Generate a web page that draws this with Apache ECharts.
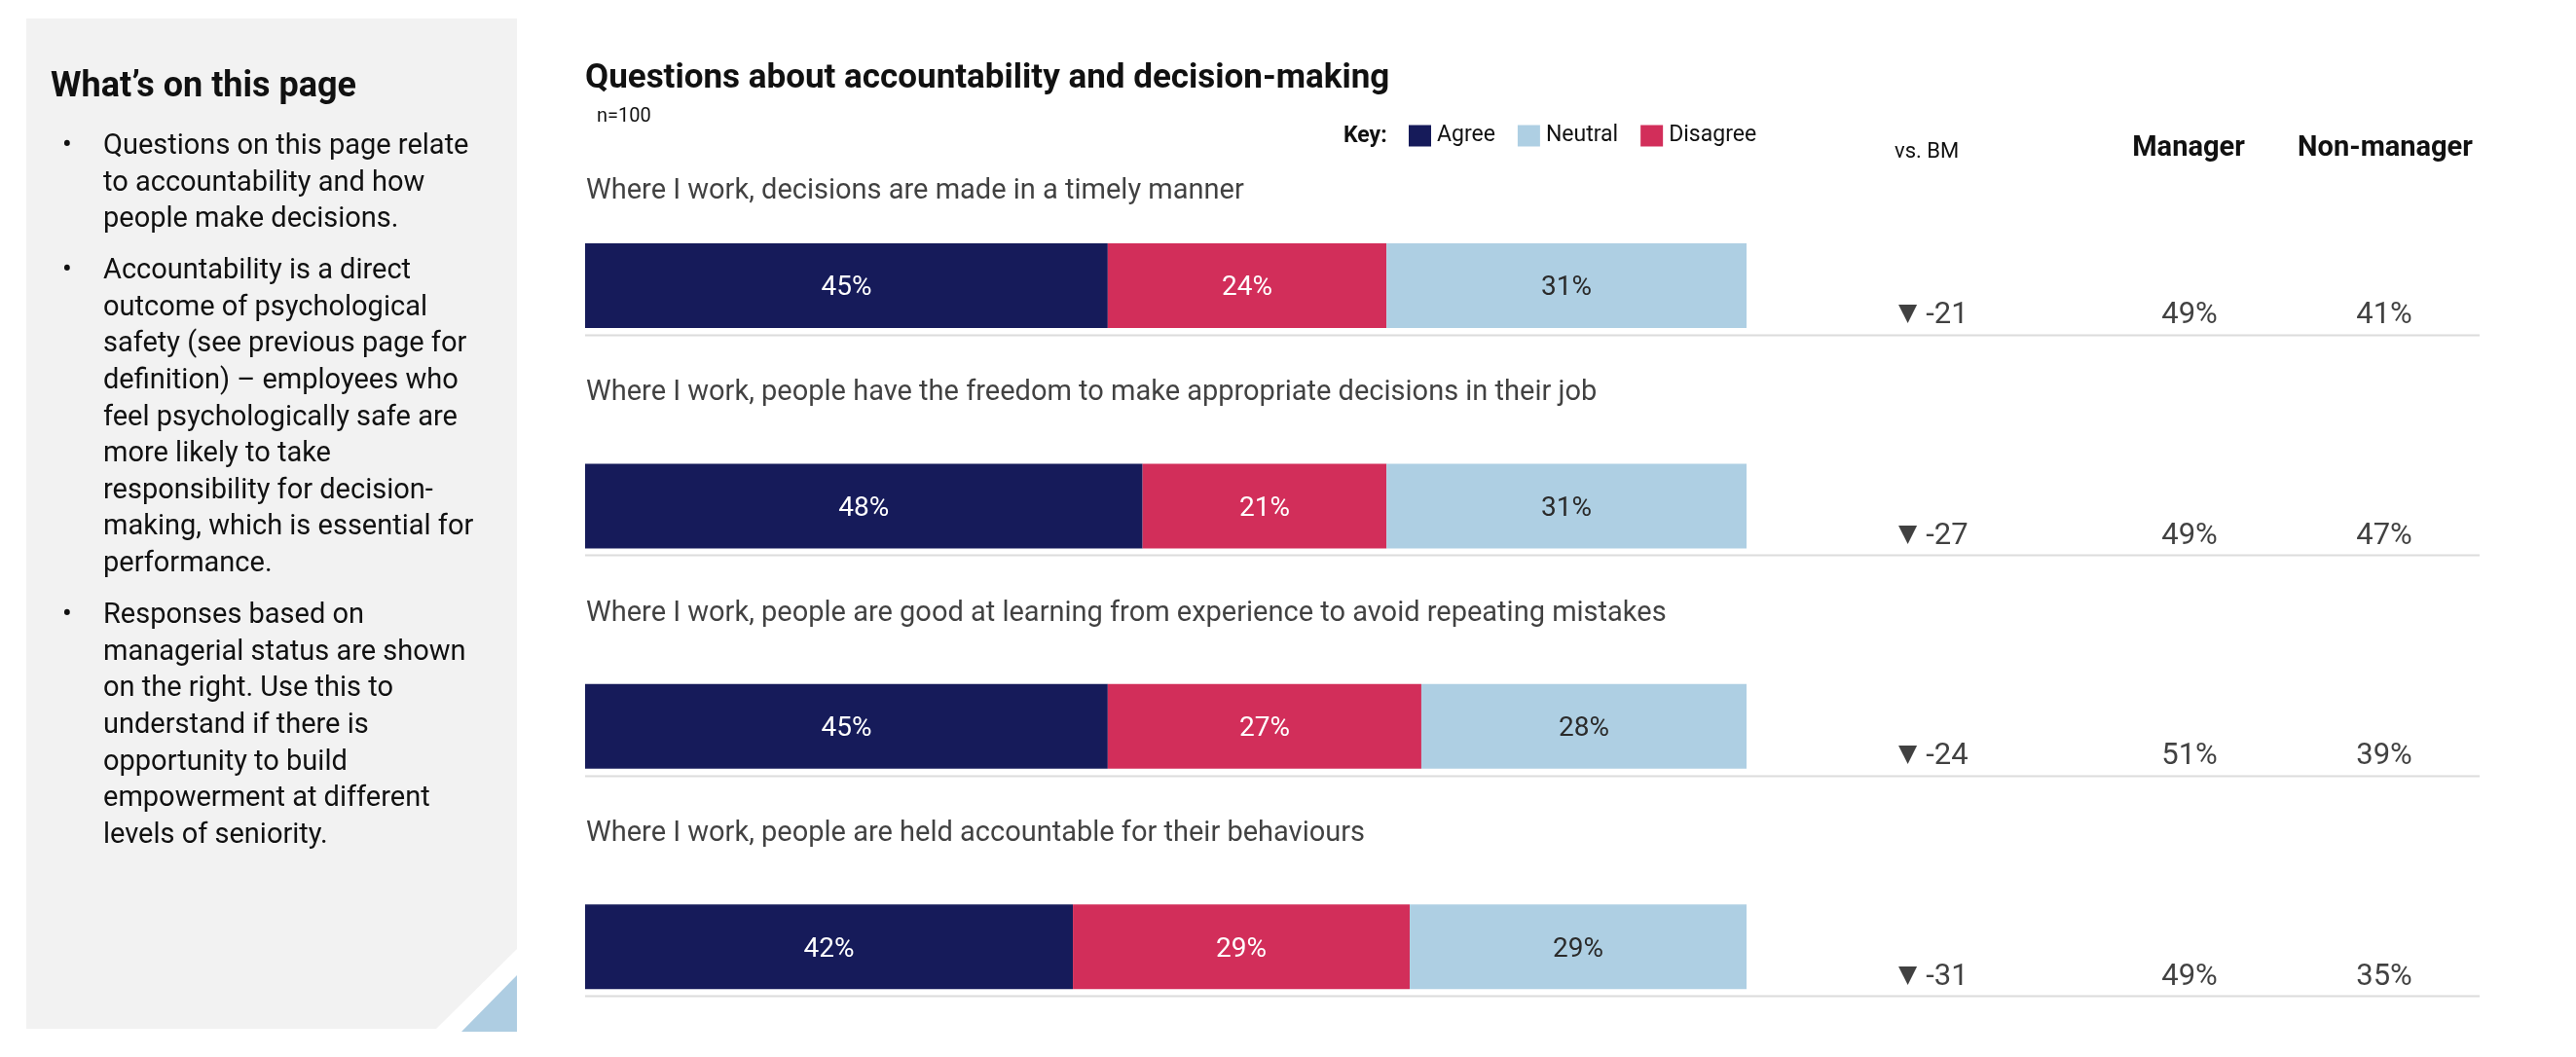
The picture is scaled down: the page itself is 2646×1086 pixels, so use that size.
<!DOCTYPE html>
<html>
<head>
<meta charset="utf-8">
<script src="https://cdn.jsdelivr.net/npm/echarts@6/dist/echarts.min.js"></script>
<style>
html,body{margin:0;padding:0;background:#ffffff;}
#chart{width:2646px;height:1086px;}
</style>
</head>
<body>
<div id="chart"></div>
<script>
// ---------------- DATA ----------------
const questions = [
  'Where I work, decisions are made in a timely manner',
  'Where I work, people have the freedom to make appropriate decisions in their job',
  'Where I work, people are good at learning from experience to avoid repeating mistakes',
  'Where I work, people are held accountable for their behaviours'
];
const agree    = [45, 48, 45, 42];
const disagree = [24, 21, 27, 29];
const neutral  = [31, 31, 28, 29];
const vsBM       = [-21, -27, -24, -31];
const manager    = [49, 49, 51, 49];
const nonManager = [41, 47, 39, 35];
const legendOrder   = ['Agree', 'Neutral', 'Disagree'];
const columnHeaders = ['vs. BM', 'Manager', 'Non-manager'];
const chartTitle = 'Questions about accountability and decision-making';
const sampleNote = 'n=100';
const keyLabel = 'Key:';
const panelTitle = 'What\u2019s on this page';
const panelBullets = [
  ['Questions on this page relate', 'to accountability and how', 'people make decisions.'],
  ['Accountability is a direct', 'outcome of psychological', 'safety (see previous page for',
   'definition) \u2013 employees who', 'feel psychologically safe are', 'more likely to take',
   'responsibility for decision-', 'making, which is essential for', 'performance.'],
  ['Responses based on', 'managerial status are shown', 'on the right. Use this to',
   'understand if there is', 'opportunity to build', 'empowerment at different', 'levels of seniority.']
];

// ---------------- STYLE / LAYOUT ----------------
const COL = {
  agree: '#161b5a', disagree: '#d22e5a', neutral: '#aecfe3',
  panel: '#f2f2f2', tri: '#aecde2', text: '#111111', rule: '#dcdcdc'
};
const FONT = 'Roboto, "Noto Sans", "DejaVu Sans", sans-serif';
const rowsTop = 180.2, rowsHeight = 906.7;
const barLeft = 601, barWidthPx = 1193, rowsRight = 2547;
const barThickness = 87;
// vertical offset of each question label above its bar (layout only)
const questionLabelOffsets = [-97, -116, -116, -116];

const chart = echarts.init(document.getElementById('chart'), null, {renderer: 'canvas'});

const rowIdx = questions.map((q, i) => i);
function catY(extra) {
  return Object.assign({type: 'category', data: rowIdx, inverse: true, show: false,
    axisLine: {show: false}, axisTick: {show: false}, axisLabel: {show: false}, splitLine: {show: false}}, extra || {});
}
function valX(min, max, gridIndex) {
  return {type: 'value', min: min, max: max, gridIndex: gridIndex, show: false,
    splitLine: {show: false}, axisLabel: {show: false}, axisLine: {show: false}, axisTick: {show: false}};
}

const grids = [
  {left: barLeft, width: barWidthPx, top: rowsTop, height: rowsHeight},          // bars
  {left: barLeft, width: rowsRight - barLeft, top: rowsTop, height: rowsHeight}, // rules + questions
  {left: 1950, width: 60, top: rowsTop, height: rowsHeight},                     // vs BM
  {left: 2199, width: 100, top: rowsTop, height: rowsHeight},                    // Manager
  {left: 2399, width: 100, top: rowsTop, height: rowsHeight}                     // Non-manager
];

function barSeries(name, values, color, labelColor) {
  return {
    name: name, type: 'bar', stack: 'resp', xAxisIndex: 0, yAxisIndex: 0,
    barWidth: barThickness, data: values,
    itemStyle: {color: color},
    label: {show: true, position: 'inside', formatter: '{c}%', color: labelColor,
      fontFamily: FONT, fontSize: 28, offset: [0, 3]},
    emphasis: {disabled: true}
  };
}

function valueColumn(gridIdx, values, formatter, align) {
  return {
    type: 'scatter', xAxisIndex: gridIdx, yAxisIndex: gridIdx,
    symbolSize: 0, silent: true,
    data: values.map((v, i) => [align === 'left' ? 0 : 0.5, i, v]),
    label: {show: true, position: 'inside', align: align || 'center', verticalAlign: 'middle',
      offset: [0, 31], fontFamily: FONT, fontSize: 31, color: COL.text,
      formatter: p => formatter(p.value[2]),
      rich: {tri: {fontFamily: '"DejaVu Sans", sans-serif', fontSize: 25, color: COL.text, padding: [0, 9, 3, 0]},
             num: {fontFamily: FONT, fontSize: 31, color: COL.text}}}
  };
}

// ------------- left panel graphics -------------
const graphics = [];
graphics.push({type: 'polygon', silent: true, z: 0,
  shape: {points: [[27, 19], [531, 19], [531, 975], [448, 1057], [27, 1057]]},
  style: {fill: COL.panel}});
graphics.push({type: 'polygon', silent: true, z: 0,
  shape: {points: [[474, 1060], [531, 1060], [531, 1002]]},
  style: {fill: COL.tri}});
graphics.push({type: 'text', x: 52, y: 90, silent: true,
  style: {text: panelTitle, font: 'bold 36px ' + FONT, fill: COL.text, verticalAlign: 'middle', align: 'left'}});
const paraStarts = [151, 279, 633];
const lineH = 37.6;
panelBullets.forEach((lines, p) => {
  graphics.push({type: 'text', x: 64, y: paraStarts[p], silent: true,
    style: {text: '\u2022', font: '29px ' + FONT, fill: COL.text, verticalAlign: 'middle', align: 'left'}});
  lines.forEach((ln, k) => {
    graphics.push({type: 'text', x: 106, y: paraStarts[p] + k * lineH, silent: true,
      style: {text: ln, font: '29px ' + FONT, fill: COL.text, verticalAlign: 'middle', align: 'left'}});
  });
});
// chart header texts
graphics.push({type: 'text', x: 601, y: 81, silent: true,
  style: {text: chartTitle, font: 'bold 35px ' + FONT, fill: COL.text, verticalAlign: 'middle'}});
graphics.push({type: 'text', x: 613, y: 119.5, silent: true,
  style: {text: sampleNote, font: '20px ' + FONT, fill: COL.text, verticalAlign: 'middle'}});
graphics.push({type: 'text', x: 1380, y: 140, silent: true,
  style: {text: keyLabel, font: 'bold 23px ' + FONT, fill: COL.text, verticalAlign: 'middle'}});
graphics.push({type: 'text', x: 1946, y: 156, silent: true,
  style: {text: columnHeaders[0], font: '22px ' + FONT, fill: COL.text, verticalAlign: 'middle', align: 'left'}});
graphics.push({type: 'text', x: 2248, y: 153, silent: true,
  style: {text: columnHeaders[1], font: 'bold 29px ' + FONT, fill: COL.text, verticalAlign: 'middle', align: 'center'}});
graphics.push({type: 'text', x: 2450, y: 153, silent: true,
  style: {text: columnHeaders[2], font: 'bold 29px ' + FONT, fill: COL.text, verticalAlign: 'middle', align: 'center'}});

const option = {
  backgroundColor: '#ffffff',
  animation: false,
  textStyle: {fontFamily: FONT},
  legend: {
    data: legendOrder, left: 1447, top: 128, orient: 'horizontal',
    icon: 'rect', itemWidth: 23, itemHeight: 22, itemGap: 23, selectedMode: false,
    padding: 0,
    textStyle: {fontFamily: FONT, fontSize: 23, color: COL.text, padding: [0, 0, 0, 1]}
  },
  grid: grids,
  xAxis: [valX(0, 100, 0), valX(0, 1, 1), valX(0, 1, 2), valX(0, 1, 3), valX(0, 1, 4)],
  yAxis: [0, 1, 2, 3, 4].map(g => catY({gridIndex: g})),
  graphic: graphics,
  series: [
    {
      type: 'custom', xAxisIndex: 1, yAxisIndex: 1, silent: true, z: 1,
      data: rowIdx.map(i => [0, i]),
      encode: {x: 0, y: 1},
      renderItem: function (params, api) {
        const c = api.coord([0, api.value(1)]);
        const band = api.size([0, 1])[1];
        const y = Math.round(c[1] + band * 0.223) + 0.5;
        const cs = params.coordSys;
        return {type: 'line', shape: {x1: cs.x, y1: y, x2: cs.x + cs.width, y2: y},
          style: {stroke: COL.rule, lineWidth: 2}};
      }
    },
    {
      type: 'scatter', xAxisIndex: 1, yAxisIndex: 1, symbolSize: 0, silent: true,
      data: questions.map((q, i) => ({
        value: [0, i, q],
        label: {offset: [1, questionLabelOffsets[i]]}
      })),
      label: {show: true, position: 'inside', align: 'left', verticalAlign: 'middle',
        fontFamily: FONT, fontSize: 29, color: COL.text,
        formatter: p => p.value[2]}
    },
    barSeries('Agree', agree, COL.agree, '#ffffff'),
    barSeries('Disagree', disagree, COL.disagree, '#ffffff'),
    barSeries('Neutral', neutral, COL.neutral, '#2b2b2b'),
    valueColumn(2, vsBM, v => (v < 0 ? '{tri|\u25BC}{num|' + v + '}' : '{tri|\u25B2}{num|+' + v + '}'), 'left'),
    valueColumn(3, manager, v => v + '%'),
    valueColumn(4, nonManager, v => v + '%')
  ]
};
chart.setOption(option);
</script>
</body>
</html>
